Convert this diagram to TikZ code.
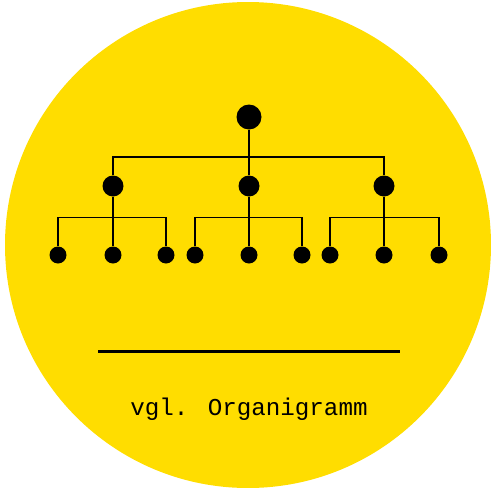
\documentclass[tikz,border=0pt]{standalone}
\usepackage{fontspec}
\newfontfamily\monofont{Liberation Mono}
\definecolor{sun}{RGB}{255,221,0}
\begin{document}
\begin{tikzpicture}[x=1pt,y=-1pt,
  dotA/.style={circle,fill=black,inner sep=0pt,minimum size=25pt},
  dotB/.style={circle,fill=black,inner sep=0pt,minimum size=21pt},
  dotC/.style={circle,fill=black,inner sep=0pt,minimum size=17pt},
  link/.style={draw=black,line width=1.6pt}]
\useasboundingbox (0,0) rectangle (491,488);
\fill[sun] (248,245) circle[radius=243];
% nodes
\node[dotA] (r) at (249,117) {};
\node[dotB] (a) at (113,186) {};
\node[dotB] (b) at (249,186) {};
\node[dotB] (c) at (384,186) {};
\node[dotC] (a1) at (58,255) {};
\node[dotC] (a2) at (113,255) {};
\node[dotC] (a3) at (166,255) {};
\node[dotC] (b1) at (195,255) {};
\node[dotC] (b2) at (249,255) {};
\node[dotC] (b3) at (302,255) {};
\node[dotC] (c1) at (330,255) {};
\node[dotC] (c2) at (384,255) {};
\node[dotC] (c3) at (439,255) {};
% connectors
\coordinate (bar1) at (249,157);
\draw[link] (r) -- (bar1) -- (b);
\draw[link] (a) |- (bar1) -| (c);
\foreach \p in {a,b,c}{
  \coordinate (\p bar) at ([yshift=-31.5pt]\p.center);
  \draw[link] (\p) -- (\p 2);
  \draw[link] (\p 1) |- (\p bar) -| (\p 3);
}
% rule and caption
\coordinate (l1) at (98,351.5);
\coordinate (l2) at (400,351.5);
\draw[line width=2.6pt] (l1) -- (l2);
\node[font=\monofont\fontsize{24.2}{24}\selectfont,anchor=base,inner sep=0pt] (t) at (249,415) {vgl. Organigramm};
\end{tikzpicture}
\end{document}
